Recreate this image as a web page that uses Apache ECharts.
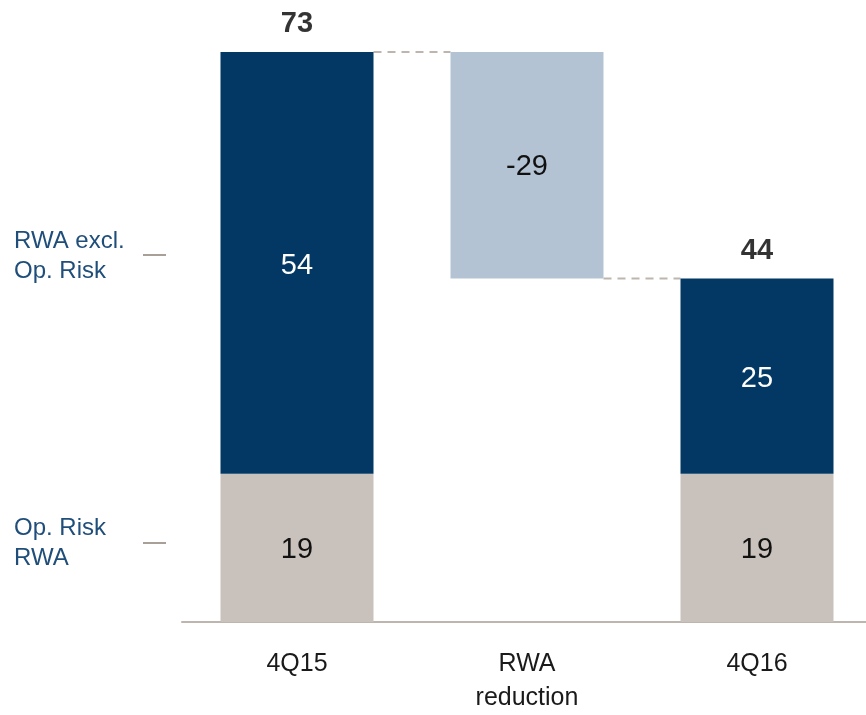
<!DOCTYPE html>
<html><head><meta charset="utf-8">
<script src="https://cdn.jsdelivr.net/npm/echarts@6/dist/echarts.min.js"></script>
<style>html,body{margin:0;padding:0;background:#fff}#c{width:866px;height:715px}</style>
</head><body><div id="c"></div>
<script>
const categories = ['4Q15', 'RWA\nreduction', '4Q16'];
const opRisk = [19, '-', 19];
const exclOpRisk = [54, '-', 25];
const reductionBase = ['-', 44, '-'];
const reduction = ['-', 29, '-'];
const reductionLabel = ['', '-29', ''];
const totals = [73, '-', 44];
const connectors = [[0, 73], [1, 44]]; // [from category index, level]

const FONT = '"Liberation Sans", Arial, sans-serif';
const BAR_W = 153, BAND = 230;
const chart = echarts.init(document.getElementById('c'));
chart.setOption({
  animation: false,
  grid: { left: 182, top: 52, width: 690, bottom: 93, containLabel: false, outerBoundsMode: 'none' },
  xAxis: {
    type: 'category', data: categories,
    axisLine: { lineStyle: { color: '#bdb5ae', width: 2 } },
    axisTick: { show: false },
    axisLabel: { color: '#1a1a1a', fontSize: 25, fontFamily: FONT, margin: 25, lineHeight: 34 }
  },
  yAxis: { type: 'value', min: 0, max: 73, show: false },
  series: [
    { name: 'Op. Risk RWA', type: 'bar', stack: 's', barWidth: BAR_W, data: opRisk,
      itemStyle: { color: '#c9c1bb' },
      label: { show: true, position: 'inside', offset: [0, 2], color: '#111', fontSize: 29, fontFamily: FONT } },
    { name: 'base', type: 'bar', stack: 's', barWidth: BAR_W, data: reductionBase,
      itemStyle: { color: 'rgba(0,0,0,0)' }, silent: true },
    { name: 'RWA excl. Op. Risk', type: 'bar', stack: 's', barWidth: BAR_W, data: exclOpRisk,
      itemStyle: { color: '#023863' },
      label: { show: true, position: 'inside', offset: [0, 3], color: '#ffffff', fontSize: 29, fontFamily: FONT } },
    { name: 'RWA reduction', type: 'bar', stack: 's', barWidth: BAR_W, data: reduction,
      itemStyle: { color: '#b3c3d3' },
      label: { show: true, position: 'inside', offset: [0, 2], color: '#111', fontSize: 29, fontFamily: FONT,
        formatter: p => reductionLabel[p.dataIndex] } },
    { name: 'total', type: 'scatter', data: totals, symbolSize: 0.1,
      label: { show: true, position: 'top', distance: 13, color: '#000', fontSize: 29, fontWeight: 'bold', fontFamily: FONT } },
    { name: 'connectors', type: 'custom', data: connectors, silent: true,
      renderItem: (params, api) => {
        const i = api.value(0), lvl = api.value(1);
        const p1 = api.coord([i, lvl]), p2 = api.coord([i + 1, lvl]);
        const half = api.size([1, 0])[0] * BAR_W / BAND / 2;
        return { type: 'line', shape: { x1: p1[0] + half, y1: p1[1], x2: p2[0] - half, y2: p2[1] },
          style: { stroke: '#bdb5ae', lineWidth: 2, lineDash: [8, 6] } };
      } }
  ],
  graphic: [
    { type: 'text', left: 14, top: 226, style: { text: 'RWA excl.\nOp. Risk', fill: '#1f4e7a', font: '24px ' + FONT, lineHeight: 30 } },
    { type: 'rect', left: 143, top: 254, shape: { width: 23, height: 2 }, style: { fill: '#a89f98' } },
    { type: 'text', left: 14, top: 513, style: { text: 'Op. Risk\nRWA', fill: '#1f4e7a', font: '24px ' + FONT, lineHeight: 30 } },
    { type: 'rect', left: 143, top: 542, shape: { width: 23, height: 2 }, style: { fill: '#a89f98' } }
  ]
});
</script></body></html>
